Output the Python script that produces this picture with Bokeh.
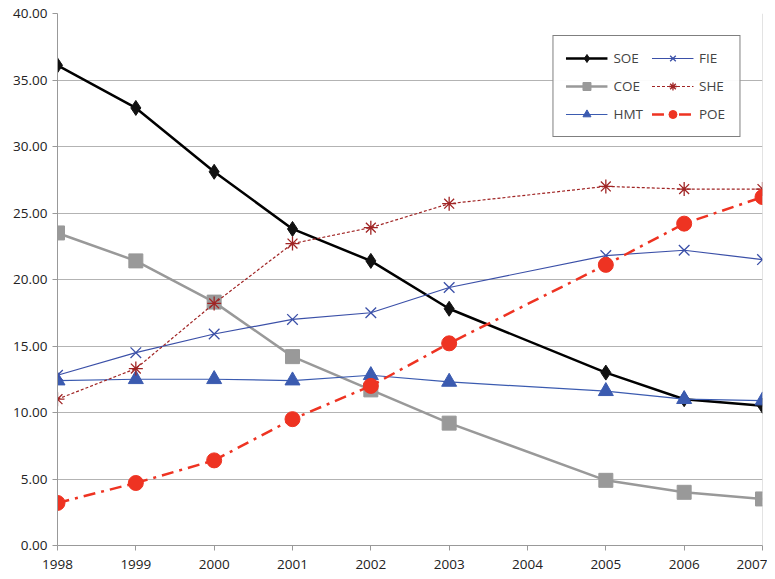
from bokeh.plotting import figure
from bokeh.models import Legend, LegendItem, Span, FixedTicker, Range1d, NumeralTickFormatter
from bokeh.embed import file_html
from bokeh.resources import INLINE

years = [1998, 1999, 2000, 2001, 2002, 2003, 2005, 2006, 2007]
soe = [36.1, 32.9, 28.1, 23.8, 21.4, 17.8, 13.0, 11.0, 10.5]
coe = [23.5, 21.4, 18.3, 14.2, 11.7, 9.2, 4.9, 4.0, 3.5]
hmt = [12.4, 12.5, 12.5, 12.4, 12.8, 12.3, 11.6, 11.0, 10.9]
fie = [12.8, 14.5, 15.9, 17.0, 17.5, 19.4, 21.8, 22.2, 21.5]
she = [11.0, 13.3, 18.2, 22.7, 23.9, 25.7, 27.0, 26.8, 26.8]
poe = [3.2, 4.7, 6.4, 9.5, 12.0, 15.2, 21.1, 24.2, 26.2]
tick_years = list(range(1998, 2008))

FONT = "Open Sans"

p = figure(width=767, height=571, output_backend="svg", toolbar_location=None,
           x_range=Range1d(1998, 2007), y_range=Range1d(0, 40),
           min_border_left=57, min_border_right=5, min_border_top=13, min_border_bottom=24)
p.outline_line_color = None
p.xgrid.grid_line_color = None
p.ygrid.grid_line_color = "#b3b3b3"
p.ygrid.ticker = FixedTicker(ticks=list(range(0, 41, 5)))

for ax in (p.xaxis[0], p.yaxis[0]):
    ax.axis_line_color = "#999999"
    ax.major_tick_line_color = "#999999"
    ax.minor_tick_line_color = None
    ax.major_tick_in = 0
    ax.major_tick_out = 5
    ax.major_label_text_font = FONT
    ax.major_label_text_font_size = "13.5px"
    ax.major_label_text_color = "#222222"
p.xaxis.major_label_standoff = 9
p.xaxis.ticker = FixedTicker(ticks=tick_years)
p.yaxis.ticker = FixedTicker(ticks=list(range(0, 41, 5)))
p.yaxis.formatter = NumeralTickFormatter(format="0.00")

p.add_layout(Span(location=2007, dimension="height", line_color="#c8c8c8", line_width=1))

r_soe = [p.line(years, soe, line_color="black", line_width=2.5),
         p.scatter(years, soe, marker="diamond", size=15, color="#111111")]
r_coe = [p.line(years, coe, line_color="#999999", line_width=2.5),
         p.scatter(years, coe, marker="square", size=14, color="#999999")]
r_hmt = [p.line(years, hmt, line_color="#3b5bb0", line_width=1.2),
         p.scatter(years, hmt, marker="triangle", size=15, color="#3b5bb0")]
r_fie = [p.line(years, fie, line_color="#3b50a8", line_width=1.2),
         p.scatter(years, fie, marker="x", size=15, line_color="#3b50a8", line_width=1.3)]
r_she = [p.line(years, she, line_color="#a02525", line_width=1.2, line_dash="3 2"),
         p.scatter(years, she, marker="asterisk", size=14, line_color="#a02525", line_width=1.3)]
r_poe = [p.line(years, poe, line_color="#ee3322", line_width=2.5, line_dash="12 6 3 6"),
         p.scatter(years, poe, marker="circle", size=15, color="#ee3322")]

legend = Legend(items=[LegendItem(label="SOE", renderers=r_soe),
                       LegendItem(label="COE", renderers=r_coe),
                       LegendItem(label="HMT", renderers=r_hmt),
                       LegendItem(label="FIE", renderers=r_fie),
                       LegendItem(label="SHE", renderers=r_she),
                       LegendItem(label="POE", renderers=r_poe)],
                ncols=2, location="top_right")
legend.border_line_color = "black"
legend.border_line_width = 1.5
legend.label_text_font = FONT
legend.label_text_font_size = "13.5px"
legend.glyph_width = 42
legend.spacing = 8
legend.padding = 12
legend.margin = 22
legend.label_standoff = 6
legend.label_width = 28
p.add_layout(legend)

open("out.html", "w").write(file_html(p, INLINE))
